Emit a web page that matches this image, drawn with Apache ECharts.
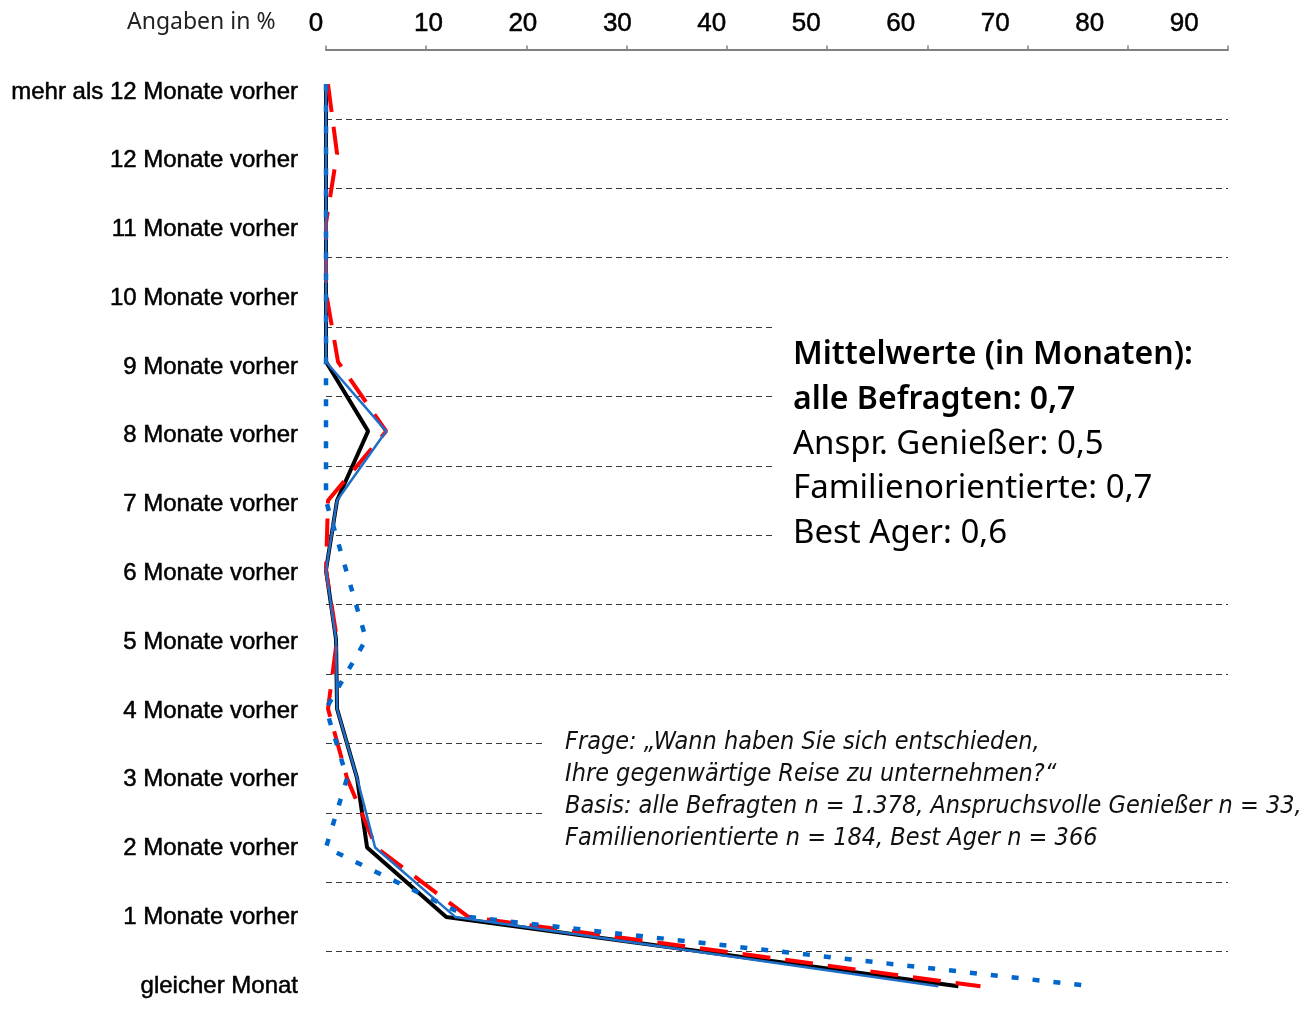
<!DOCTYPE html>
<html><head><meta charset="utf-8">
<script src="https://cdn.jsdelivr.net/npm/echarts@6/dist/echarts.min.js"></script>
<style>html,body{margin:0;padding:0;background:#fff}#c{width:1301px;height:1021px}</style>
</head><body><div id="c"></div>
<script>
const categories = ['mehr als 12 Monate vorher','12 Monate vorher','11 Monate vorher','10 Monate vorher','9 Monate vorher','8 Monate vorher','7 Monate vorher','6 Monate vorher','5 Monate vorher','4 Monate vorher','3 Monate vorher','2 Monate vorher','1 Monate vorher','gleicher Monat'];
const alleBefragten = [0,0,0,0,0,4.2,1.1,0,1.0,1.1,3.1,4.1,12.0,63.1];
const anspruchsvolleGeniesser = [0.2,1.1,0,0,1.2,6.0,0.2,0,1.1,0.2,2.1,5.0,14.2,65.3];
const familienorientierte = [0,0,0,0,0,0,0,2.0,4.0,0,2.1,0,14.2,76.5];
const bestAger = [0,0,0,0,0,6.0,1.1,0,1.0,1.1,3.1,4.9,12.9,61.1];
const tickValues = [0,10,20,30,40,50,60,70,80,90];
const unitLabel = 'Angaben in %';
const meanTitle = ['Mittelwerte (in Monaten):','alle Befragten: 0,7'];
const meanLines = ['Anspr. Genießer: 0,5','Familienorientierte: 0,7','Best Ager: 0,6'];
const questionLines = ['Frage: „Wann haben Sie sich entschieden,','Ihre gegenwärtige Reise zu unternehmen?“','Basis: alle Befragten n = 1.378, Anspruchsvolle Genießer n = 33,','Familienorientierte n = 184, Best Ager n = 366'];

const chart = echarts.init(document.getElementById('c'), null, {renderer:'canvas'});
const tickFont = {fontSize:26, fontWeight:'normal', fontFamily:"'Liberation Sans',Arial,sans-serif", color:'#000', textBorderColor:'#000', textBorderWidth:0.5};
chart.setOption({
  animation:false,
  backgroundColor:'#fff',
  grid:[
    {left:326, right:73, top:49.5, bottom:0, containLabel:false},
    {left:326, right:73, top:57.6, bottom:0.6, containLabel:false}
  ],
  xAxis:[{
    type:'value', gridIndex:0, position:'top', min:0, max:90, interval:10,
    axisLine:{show:true, lineStyle:{color:'#808080', width:2}},
    axisTick:{show:true, length:4, lineStyle:{color:'#808080', width:1.5}},
    axisLabel:{show:false},
    splitLine:{show:false}
  },{
    type:'value', gridIndex:0, position:'top', min:-0.836, max:94.63,
    axisLine:{show:false}, axisTick:{show:false}, splitLine:{show:false},
    axisLabel:{
      show:true, margin:13, customValues:tickValues,
      formatter:function(v){ return v===0 ? '{z|0}' : '{n|'+v+'}'; },
      rich:{ z:Object.assign({padding:[0,36,0,0]}, tickFont), n:Object.assign({}, tickFont) }
    }
  },{
    type:'value', gridIndex:1, show:false, min:0, max:90
  }],
  yAxis:[{
    type:'category', gridIndex:0, data:categories, inverse:true, boundaryGap:true,
    axisLine:{show:false}, axisTick:{show:false}, axisLabel:{show:false},
    splitLine:{show:true, lineStyle:{color:'#3a3a3a', width:1, type:[6,4]}}
  },{
    type:'category', gridIndex:1, data:categories, inverse:true, boundaryGap:true,
    axisLine:{show:false}, axisTick:{show:false}, splitLine:{show:false},
    axisLabel:{margin:28, fontSize:24, fontWeight:'normal', fontFamily:"'Liberation Sans',Arial,sans-serif", color:'#000', textBorderColor:'#000', textBorderWidth:0.5}
  }],
  series:[
    {name:'alle Befragten', type:'line', data:alleBefragten, xAxisIndex:0, yAxisIndex:0, symbol:'none', z:2,
     lineStyle:{color:'#000', width:4}},
    {name:'Anspruchsvolle Genießer', type:'line', data:anspruchsvolleGeniesser, xAxisIndex:0, yAxisIndex:0, symbol:'none', z:3,
     lineStyle:{color:'#ff0000', width:4, type:[28,15], cap:'butt'}},
    {name:'Familienorientierte', type:'line', data:familienorientierte, xAxisIndex:0, yAxisIndex:0, symbol:'none', z:4,
     lineStyle:{color:'#0066cc', width:4.5, type:[7,14], cap:'butt'}},
    {name:'Best Ager', type:'line', data:bestAger, xAxisIndex:0, yAxisIndex:0, symbol:'none', z:5,
     lineStyle:{color:'#1f6fc8', width:2.5}}
  ],
  graphic:[
    {type:'text', left:127, top:11, z:10,
     style:{text:unitLabel, font:"23px 'Noto Sans', sans-serif", fill:'#222'}},
    {type:'text', left:773, top:307, z:10,
     style:{
       text: meanTitle.map(t=>'{b|'+t+'}').concat(meanLines.map(t=>'{n|'+t+'}')).join('\n'),
       backgroundColor:'#fff', padding:[26,50,8,20],
       rich:{
         b:{fontSize:32, fontWeight:600, fontFamily:"'Noto Sans',sans-serif", fill:'#000', lineHeight:44.5},
         n:{fontSize:33, fontWeight:'normal', fontFamily:"'Noto Sans',sans-serif", fill:'#000', lineHeight:44.5}
       }
     }},
    {type:'text', left:545, top:702, z:10,
     style:{
       text: questionLines.join('\n'),
       backgroundColor:'#fff', padding:[24,10,14,20],
       fontSize:25, fontStyle:'italic', fontFamily:"'DejaVu Sans Condensed','DejaVu Sans',sans-serif", fill:'#111', lineHeight:32
     }}
  ]
});
</script></body></html>
